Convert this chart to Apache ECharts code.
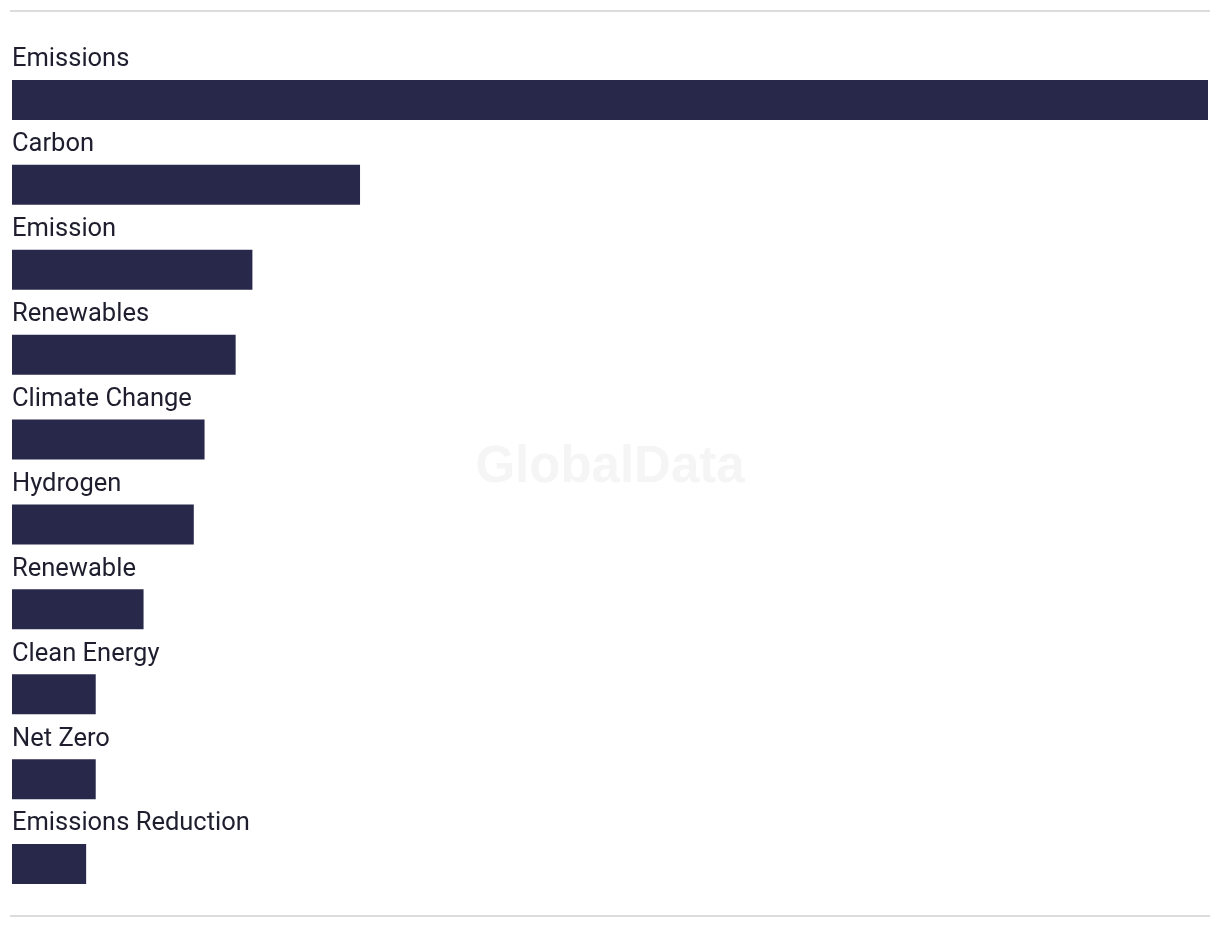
<!DOCTYPE html>
<html>
<head>
<meta charset="utf-8">
<script src="https://cdn.jsdelivr.net/npm/echarts@6/dist/echarts.min.js"></script>
<style>
html,body{margin:0;padding:0;background:#fff;}
#chart{width:1220px;height:928px;}
</style>
</head>
<body>
<div id="chart"></div>
<script>
const categories = ["Emissions","Carbon","Emission","Renewables","Climate Change","Hydrogen","Renewable","Clean Energy","Net Zero","Emissions Reduction"];
const values = [100, 29.1, 20.1, 18.7, 16.1, 15.2, 11.0, 7.0, 7.0, 6.2];

const chart = echarts.init(document.getElementById('chart'), null, {renderer:'canvas'});
chart.setOption({
  animation: false,
  backgroundColor: '#ffffff',
  grid: {left: 12, right: 12, top: 57.5, bottom: 21.5, containLabel: false},
  xAxis: {type: 'value', min: 0, max: 100, show: false},
  yAxis: {type: 'category', data: categories, inverse: true, show: false},
  graphic: [
    {type: 'line', shape: {x1: 10, y1: 11, x2: 1210, y2: 11}, style: {stroke: '#dcdcdc', lineWidth: 2}},
    {type: 'line', shape: {x1: 10, y1: 916, x2: 1210, y2: 916}, style: {stroke: '#dcdcdc', lineWidth: 2}},
    {type: 'text', left: 'center', top: 442, z: -1, style: {text: 'GlobalData', fill: '#f5f5f5', font: 'bold 51px "Liberation Sans", Arial, sans-serif'}}
  ],
  series: [{
    type: 'bar',
    data: values,
    barWidth: 40,
    itemStyle: {color: '#28284b'},
    label: {
      show: true,
      position: [0, -20],
      formatter: p => p.name,
      color: '#1e1e2e',
      fontSize: 25.5,
      fontFamily: 'Roboto, "Noto Sans", sans-serif',
      verticalAlign: 'middle',
      align: 'left'
    }
  }]
});
</script>
</body>
</html>
